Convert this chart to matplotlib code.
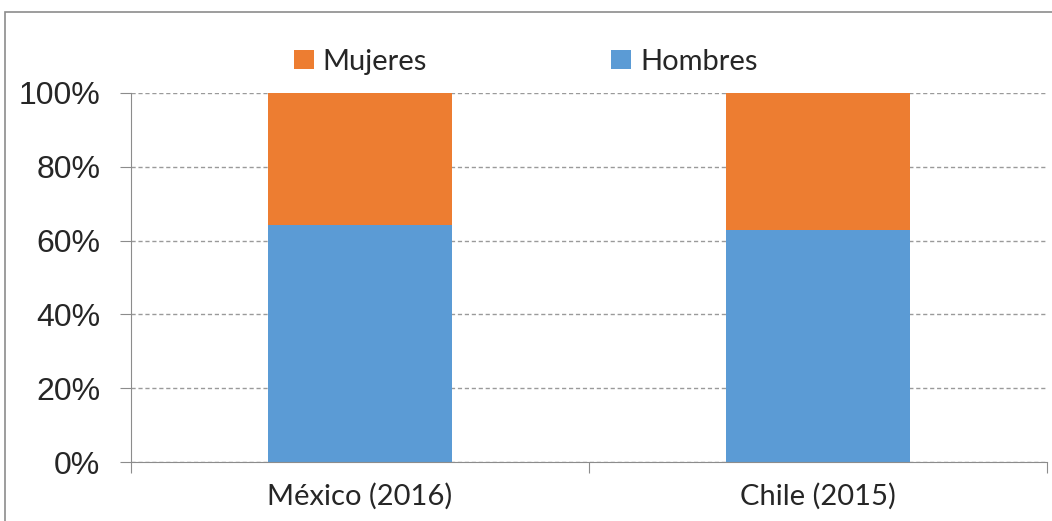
import matplotlib.pyplot as plt
from matplotlib.patches import Rectangle
from matplotlib.ticker import PercentFormatter

categories = ["México (2016)", "Chile (2015)"]
hombres = [64.2, 62.9]
mujeres = [35.8, 37.1]

orange = "#ED7D31"
blue = "#5B9BD5"

fig = plt.figure(figsize=(10.52, 5.21), dpi=100)
ax = fig.add_axes([131 / 1052, 1 - 462 / 521, 916 / 1052, 369 / 521])

# outer frame of the pasted chart
fig.patches.append(Rectangle((5 / 1052, -0.05), 1.1, 1.05 - 12 / 521,
                             transform=fig.transFigure, fill=False,
                             edgecolor="#8c8c8c", linewidth=1.2))

x = range(len(categories))
ax.bar(x, hombres, width=0.4, color=blue, label="Hombres", zorder=2)
ax.bar(x, mujeres, width=0.4, bottom=hombres, color=orange, label="Mujeres", zorder=2)

ax.set_xlim(-0.5, 1.5)
ax.set_ylim(0, 100)
ax.set_yticks(range(0, 101, 20))
ax.yaxis.set_major_formatter(PercentFormatter(decimals=0))
ax.grid(axis="y", color="#9a9a9a", linestyle=(0, (3, 2)), linewidth=1, zorder=0)

ax.set_xticks([-0.5, 0.5, 1.5], minor=False)
ax.set_xticklabels([])
ax.set_xticks(list(x), minor=True)
ax.set_xticklabels(categories, minor=True, fontsize=21, family="Lato", color="#262626")
ax.tick_params(axis="x", which="minor", length=0, pad=15)
ax.tick_params(axis="x", which="major", length=8, color="#8c8c8c", direction="out")
ax.tick_params(axis="y", length=8, color="#8c8c8c", labelsize=23, pad=14,
               labelcolor="#262626")
for lbl in ax.get_yticklabels():
    lbl.set_family("Liberation Sans")

for side in ["top", "right"]:
    ax.spines[side].set_visible(False)
ax.spines["left"].set_color("#8c8c8c")
ax.spines["bottom"].set_color("#8c8c8c")

h, l = ax.get_legend_handles_labels()
leg = fig.legend(h[::-1], l[::-1], loc="center left",
                 bbox_to_anchor=(279 / 1052, 1 - 62 / 521), borderpad=0,
                 ncol=2, frameon=False, prop={"family": "Lato", "size": 21},
                 handlelength=0.7, handleheight=0.65, handletextpad=0.3,
                 columnspacing=6.3)
for t in leg.get_texts():
    t.set_color("#262626")

fig.savefig("out.png", dpi=100)
